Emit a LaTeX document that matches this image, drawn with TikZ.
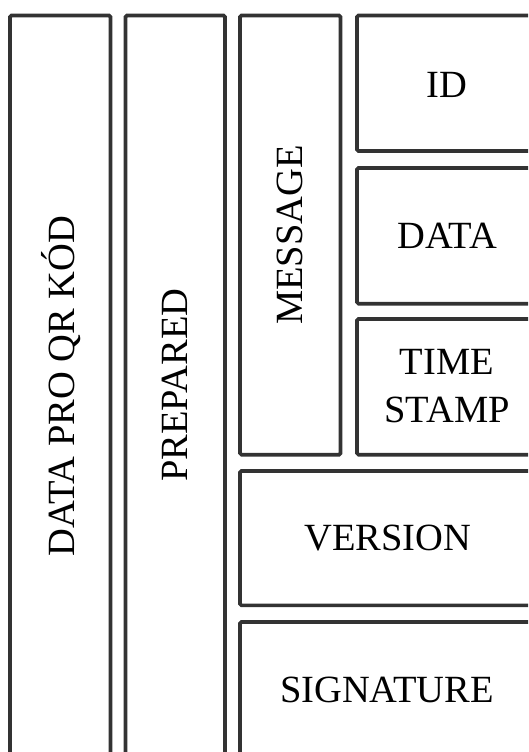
\documentclass[tikz,border=0pt]{standalone}
\usepackage{fontspec}
\setmainfont{Liberation Serif}
\begin{document}
\begin{tikzpicture}[x=1pt,y=-1pt,
  box/.style={draw=black!80, line width=3.6pt, rounded corners=1.5pt},
  lbl/.style={font=\fontsize{38.5}{48}\selectfont, inner sep=0pt, align=center, text=black}]
\useasboundingbox (0,0) rectangle (528,752);
\clip (0,0) rectangle (528,752);
\draw[box] (10,15.5) rectangle (110.5,757);
\draw[box] (125.5,15.5) rectangle (225,757);
\draw[box] (240,15.5) rectangle (340.5,454.7);
\draw[box] (357,15.5) rectangle (537,151);
\draw[box] (357,168) rectangle (537,303.7);
\draw[box] (357,319) rectangle (537,454.7);
\draw[box] (240,471) rectangle (537,605.3);
\draw[box] (240,622) rectangle (537,757);
\node[lbl, rotate=90] (qr) at (61,386) {DATA PRO QR KÓD};
\node[lbl, rotate=90] (prep) at (175,385) {PREPARED};
\node[lbl, rotate=90] (msg) at (290,235) {MESSAGE};
\node[lbl] (id) at (447,84.5) {ID};
\node[lbl] (data) at (447,235.5) {DATA};
\node[lbl] (ts) at (447,386) {TIME\\STAMP};
\node[lbl] (ver) at (388,538) {VERSION};
\node[lbl] (sig) at (387,690) {SIGNATURE};
\end{tikzpicture}
\end{document}
